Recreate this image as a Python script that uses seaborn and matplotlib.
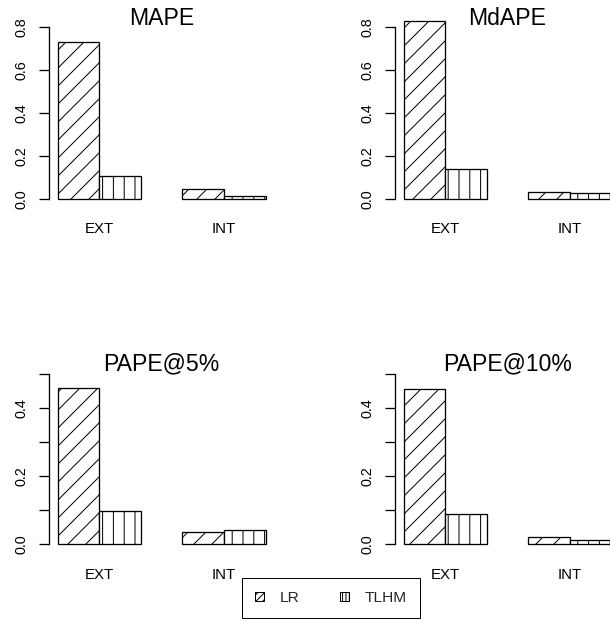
import matplotlib
matplotlib.use("Agg")
import matplotlib.pyplot as plt
from matplotlib.patches import Patch
import pandas as pd
import seaborn as sns

# ---- data -------------------------------------------------------------
categories = ["EXT", "INT"]
models = ["LR", "TLHM"]
titles = ["MAPE", "MdAPE", "PAPE@5%", "PAPE@10%"]

mape_lr = [0.727, 0.046]
mape_tlhm = [0.107, 0.014]
mdape_lr = [0.828, 0.033]
mdape_tlhm = [0.138, 0.028]
pape5_lr = [0.459, 0.037]
pape5_tlhm = [0.098, 0.042]
pape10_lr = [0.456, 0.021]
pape10_tlhm = [0.089, 0.0135]

row1_ticks = [0.0, 0.2, 0.4, 0.6, 0.8]
row1_labels = ["0.0", "0.2", "0.4", "0.6", "0.8"]
row2_ticks = [0.0, 0.1, 0.2, 0.3, 0.4, 0.5]
row2_labels = ["0.0", "", "0.2", "", "0.4", ""]

# ---- styling ------------------------------------------------------------
DPI = 324
W, H = 610, 620


def pt(pixels):
    return pixels * 72.0 / DPI


sns.set_style("white")
plt.rcParams["font.family"] = ["Liberation Sans", "DejaVu Sans"]
plt.rcParams["hatch.linewidth"] = pt(1.0)
plt.rcParams["hatch.color"] = "black"

fig = plt.figure(figsize=((W + 0.01) / DPI, (H + 0.01) / DPI), dpi=DPI)
fig.patch.set_facecolor("white")


def axes_at(left, right, top, bottom):
    return fig.add_axes([left / W, 1 - bottom / H, (right - left) / W, (bottom - top) / H])


panels = [
    (titles[0], mape_lr, mape_tlhm, (49.4, 273.9, 1.9, 206.3), (-0.0352, 0.9152), row1_ticks, row1_labels, 0.887),
    (titles[1], mdape_lr, mdape_tlhm, (395.2, 619.7, 1.9, 206.3), (-0.0352, 0.9152), row1_ticks, row1_labels, 0.887),
    (titles[2], pape5_lr, pape5_tlhm, (49.4, 273.9, 349.8, 551.8), (-0.022, 0.572), row2_ticks, row2_labels, 0.8975),
    (titles[3], pape10_lr, pape10_tlhm, (395.2, 619.7, 349.8, 551.8), (-0.022, 0.572), row2_ticks, row2_labels, 0.8975),
]

# diagonal shading for LR, vertical shading for TLHM
hatches = {"LR": "//////", "TLHM": "|||||"}

for title, lr_vals, tlhm_vals, box, ylim, ticks, labels, title_y in panels:
    ax = axes_at(*box)
    df = pd.DataFrame({
        "set": categories * 2,
        "model": [models[0]] * len(categories) + [models[1]] * len(categories),
        "value": list(lr_vals) + list(tlhm_vals),
    })
    sns.barplot(
        data=df, x="set", y="value", hue="model", hue_order=models, order=categories,
        palette=["white", "white"], saturation=1, width=2 / 3, gap=0,
        edgecolor="black", linewidth=pt(1.3), errorbar=None, legend=False, ax=ax,
    )
    for container, model in zip(ax.containers, models):
        for bar in container:
            bar.set_hatch(hatches[model])

    ax.set_xlim(-0.4, 1.4)
    ax.set_ylim(*ylim)
    ax.set_facecolor("none")
    ax.set_xlabel("")
    ax.set_ylabel("")

    for side in ("top", "right", "bottom"):
        ax.spines[side].set_visible(False)
    ax.spines["left"].set_bounds(ticks[0], ticks[-1])
    ax.spines["left"].set_linewidth(pt(1.3))
    ax.spines["left"].set_color("black")

    ax.set_yticks(ticks)
    ax.set_yticklabels(labels)
    ax.tick_params(axis="y", left=True, direction="out", length=pt(10), width=pt(1.3),
                   pad=pt(11), labelsize=pt(14.4), colors="black")
    plt.setp(ax.get_yticklabels(), rotation=90, va="center")
    ax.tick_params(axis="x", bottom=False, length=0, pad=pt(16), labelsize=pt(15), colors="black")

    ax.set_title(title, y=title_y, pad=0, fontsize=pt(23), color="black", va="baseline")

handles = [
    Patch(facecolor="white", edgecolor="black", hatch="/" * 16, linewidth=pt(1.0)),
    Patch(facecolor="white", edgecolor="black", hatch="|" * 16, linewidth=pt(1.0)),
]
leg = fig.legend(
    handles, models, loc="center", bbox_to_anchor=(331 / W, 1 - 598 / H), ncol=2,
    fontsize=pt(15.5), handlelength=0.6, handleheight=0.6, handletextpad=1.0,
    columnspacing=2.6, borderpad=0.85, frameon=True, fancybox=False,
    edgecolor="black", framealpha=1,
)
leg.get_frame().set_linewidth(pt(1.0))

fig.savefig("out.png", dpi=DPI, facecolor="white")
